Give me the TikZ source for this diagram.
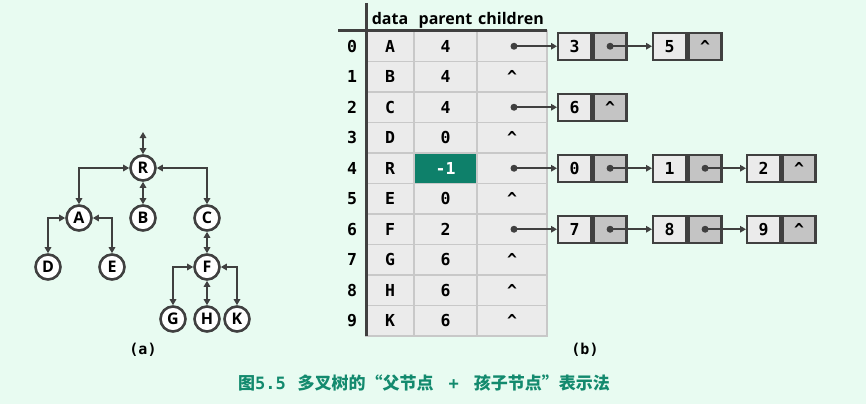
\documentclass[tikz,border=0pt]{standalone}
\usepackage{fontspec}
\setmainfont{Open Sans}
\setmonofont{DejaVu Sans Mono}
\newfontfamily\cjk{Noto Sans CJK SC}
\usetikzlibrary{arrows.meta}
\definecolor{bg}{HTML}{E8FBF1}
\definecolor{ln}{HTML}{404040}
\definecolor{cellA}{HTML}{EBEBEB}
\definecolor{cellB}{HTML}{C4C4C4}
\definecolor{gridc}{HTML}{C8C8C8}
\definecolor{tealc}{HTML}{0E806A}
\definecolor{capc}{HTML}{138A6E}
\begin{document}
\begin{tikzpicture}[x=1pt,y=-1pt,
  tip/.tip={Triangle[length=6pt,width=6.5pt]},
  tn/.style={circle, draw=ln, line width=2.6pt, fill=white, minimum size=25pt, inner sep=0pt,
    font=\fontsize{16}{16}\selectfont\bfseries},
  edge/.style={ln, line width=2.3pt, tip-tip},
  arr/.style={ln, line width=2.1pt, -tip},
  cell/.style={draw=gridc, line width=1.2pt, fill=cellA, minimum height=30.5pt, inner sep=0pt,
    font=\fontsize{16.5}{16.5}\selectfont\ttfamily\bfseries},
  hdr/.style={anchor=base, inner sep=0pt, font=\fontsize{16}{16}\selectfont\bfseries},
  idx/.style={inner sep=0pt, font=\fontsize{16.5}{16.5}\selectfont\ttfamily\bfseries},
  lv/.style={draw=ln, line width=2.4pt, fill=cellA, minimum width=33pt, minimum height=27pt,
    inner sep=0pt, anchor=west, font=\fontsize{16.5}{16.5}\selectfont\ttfamily\bfseries},
  lp/.style={lv, fill=cellB},
  dot/.style={ln},
  lab/.style={inner sep=0pt, font=\fontsize{15}{15}\selectfont\ttfamily\bfseries}
]
\fill[bg] (0,0) rectangle (866,404);
\useasboundingbox (0,0) rectangle (866,404);

% ---------- (a) tree ----------
\node[tn] (R) at (143,168) {R};
\node[tn] (A) at (79,218) {A};
\node[tn] (B) at (143,218) {B};
\node[tn] (C) at (207,218) {C};
\node[tn] (D) at (48,267) {D};
\node[tn] (E) at (112,267) {E};
\node[tn] (F) at (207,267) {F};
\node[tn] (G) at (173,319) {G};
\node[tn] (H) at (207,319) {H};
\node[tn] (K) at (237,319) {K};
\coordinate (top) at (143,132);
\draw[edge] (top) -- (R.north);
\draw[edge] (R.west) -| (A.north);
\draw[edge] (R.south) -- (B.north);
\draw[edge] (R.east) -| (C.north);
\draw[edge] (A.west) -| (D.north);
\draw[edge] (A.east) -| (E.north);
\draw[edge] (C.south) -- (F.north);
\draw[edge] (F.west) -| (G.north);
\draw[edge] (F.south) -- (H.north);
\draw[edge] (F.east) -| (K.north);
\node[lab] (la) at (143,350) {(a)};

% ---------- (b) table ----------
\node[hdr] (hd) at (390,25) {data};
\node[hdr] (hp) at (445.5,25) {parent};
\node[hdr] (hc) at (511,25) {children};
\foreach \i/\d/\p/\c in {0/A/4/1,1/B/4/0,2/C/4/1,3/D/0/0,4/R/-1/1,5/E/0/0,6/F/2/1,7/G/6/0,8/H/6/0,9/K/6/0}{
  \pgfmathsetmacro\yy{46.25+30.5*\i}
  \node[idx] (n\i) at (352,\yy) {\i};
  \node[cell, minimum width=48pt] (d\i) at (390,\yy) {\d};
  \ifnum\i=4
    \node[cell, minimum width=63pt, fill=tealc, text=white] (p\i) at (445.5,\yy) {\p};
  \else
    \node[cell, minimum width=63pt] (p\i) at (445.5,\yy) {\p};
  \fi
  \ifnum\c=1
    \node[cell, minimum width=70pt] (c\i) at (512,\yy) {};
    \coordinate (ptr\i) at (514,\yy);
  \else
    \node[cell, minimum width=70pt] (c\i) at (512,\yy) {\textasciicircum};
  \fi
}
\coordinate (vt) at (366,3);
\coordinate (vb) at (366,336);
\coordinate (hl) at (338,31);
\coordinate (hr) at (547,31);
\draw[ln, line width=3pt] (vt) -- (vb);
\draw[ln, line width=3pt] (hl) -- (hr);

% ---------- linked lists ----------
% row 0
\node[lv] (a0v) at (557,46.25) {3};
\node[lp] (a0p) at (a0v.east) {};
\node[lv] (b0v) at (652,46.25) {5};
\node[lp] (b0p) at (b0v.east) {\textasciicircum};
% row 2
\node[lv] (a2v) at (557,107.25) {6};
\node[lp] (a2p) at (a2v.east) {\textasciicircum};
% row 4
\node[lv] (a4v) at (557,168.25) {0};
\node[lp] (a4p) at (a4v.east) {};
\node[lv] (b4v) at (652,168.25) {1};
\node[lp] (b4p) at (b4v.east) {};
\node[lv] (c4v) at (746,168.25) {2};
\node[lp] (c4p) at (c4v.east) {\textasciicircum};
% row 6
\node[lv] (a6v) at (557,229.25) {7};
\node[lp] (a6p) at (a6v.east) {};
\node[lv] (b6v) at (652,229.25) {8};
\node[lp] (b6p) at (b6v.east) {};
\node[lv] (c6v) at (746,229.25) {9};
\node[lp] (c6p) at (c6v.east) {\textasciicircum};

\foreach \s/\t in {ptr0/a0v, ptr2/a2v, ptr4/a4v, ptr6/a6v}{
  \fill[dot] (\s) circle (3.5pt);
  \draw[arr] (\s) -- (\t.west);
}
\foreach \s/\t in {a0p/b0v, a4p/b4v, b4p/c4v, a6p/b6v, b6p/c6v}{
  \fill[dot] (\s.center) circle (3.5pt);
  \draw[arr] (\s.center) -- (\t.west);
}
\node[lab] (lb) at (585,350) {(b)};

% ---------- caption ----------
\node[inner sep=0pt, text=capc, font=\fontsize{17}{17}\selectfont\cjk\bfseries] (cap) at (424,383)
  {图{\ttfamily 5.5}\hspace{12pt}多叉树的“父节点\hspace{15pt}{\ttfamily +}\hspace{15pt}孩子节点”表示法};
\end{tikzpicture}
\end{document}
